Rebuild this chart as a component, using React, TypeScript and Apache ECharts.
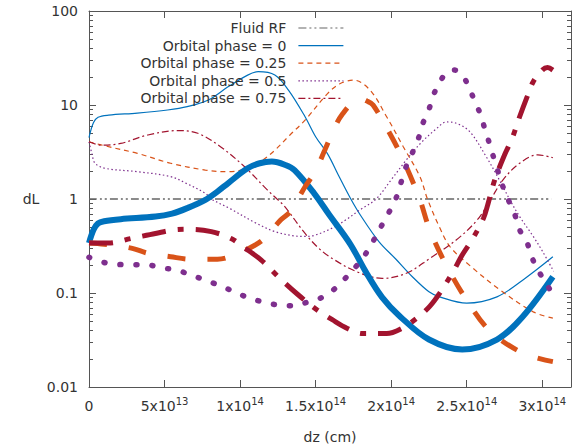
import React, { useEffect, useRef } from 'react';
import * as echarts from 'echarts';

const FONT = 'DejaVu Sans';
const X_UNIT = 1e13;
const X_MAX = 3.19e14;
const AXIS_COLOR = '#555';
const TEXT_COLOR = '#333';

const legendNames = [
  'Fluid RF',
  'Orbital phase = 0',
  'Orbital phase = 0.25',
  'Orbital phase = 0.5',
  'Orbital phase = 0.75',
];

// x in units of 1e13 cm, y = dL
const fluidRF = [[0, 1], [30.6, 1]];

const phase0Thin = [
  [0, 4.5], [0.3, 6.5], [0.6, 7.4], [1.3, 7.8], [3.2, 8.2], [5.2, 8.85], [6.5, 9.6], [7.9, 11.3],
  [9.2, 15.6], [10.5, 20.8], [11.2, 22.6], [12.3, 20.8], [13.2, 14.4], [14.3, 7.5], [15.0, 4.6],
  [15.8, 3.0], [16.5, 1.8], [17.3, 1.02], [18.0, 0.66], [19.2, 0.35], [20.3, 0.23], [21.4, 0.149],
  [22.5, 0.103], [23.2, 0.091], [25.0, 0.078], [27.0, 0.091], [28.7, 0.137], [30.7, 0.243],
];

const phase0Thick = [
  [0, 0.34], [0.3, 0.47], [0.6, 0.55], [1.0, 0.58], [2.1, 0.61], [4.4, 0.65], [5.5, 0.7], [6.5, 0.8],
  [7.7, 0.98], [8.5, 1.2], [9.2, 1.47], [10.5, 2.12], [11.3, 2.4], [12.1, 2.5], [13.0, 2.3],
  [13.6, 2.03], [14.9, 1.15], [15.9, 0.68], [17.3, 0.33], [18.3, 0.17], [19.4, 0.09], [20.6, 0.056],
  [22.5, 0.032], [24.7, 0.025], [27.0, 0.032], [28.7, 0.056], [30.7, 0.149],
];

const phase025Thin = [
  [0, 4.06], [1.3, 3.6], [3.2, 3.06], [5.4, 2.4], [7.7, 2.03], [9.2, 1.95], [10.5, 2.12], [11.5, 2.6],
  [12.3, 3.3], [13.3, 4.8], [14.3, 6.9], [15.8, 13.3], [16.6, 16.8], [17.5, 18.4], [18.6, 14.4],
  [19.7, 7.5], [20.8, 3.6], [21.9, 1.73], [22.4, 1.0], [23.2, 0.5], [23.9, 0.31], [25.3, 0.19],
  [27.2, 0.108], [29.4, 0.063], [30.7, 0.054],
];

const phase025Thick = [
  [0, 0.34], [1.0, 0.33], [2.8, 0.3], [3.9, 0.265], [5.4, 0.243], [6.75, 0.229], [8.5, 0.229],
  [9.65, 0.254], [11.0, 0.324], [11.6, 0.38], [12.7, 0.6], [13.3, 0.73], [14.3, 1.35], [15.0, 2.0],
  [15.6, 3.3], [16.4, 6.4], [16.8, 8.1], [17.4, 10.5], [17.9, 11.7], [18.4, 11.0], [18.8, 10],
  [19.9, 5.0], [20.8, 2.6], [21.9, 0.98], [22.55, 0.47], [23.7, 0.19], [25.0, 0.084], [26.5, 0.04],
  [28.7, 0.023], [30.7, 0.0186],
];

const phase05Thin = [
  [0, 4.06], [0.2, 3.0], [0.4, 2.4], [1.06, 2.12], [3.24, 1.95], [5.4, 1.73], [6.5, 1.45], [7.7, 1.15],
  [8.1, 1.0], [9.4, 0.78], [11.0, 0.56], [12.3, 0.45], [13.6, 0.405], [14.3, 0.4], [14.9, 0.41],
  [16.1, 0.49], [17.0, 0.6], [17.9, 0.76], [19.0, 1.0], [20.0, 1.6], [21.0, 2.6], [22.0, 4.0],
  [23.0, 5.6], [23.65, 6.6], [24.3, 6.4], [25.2, 5.2], [26.3, 2.8], [27.2, 1.55], [27.9, 0.95],
  [28.5, 0.65], [29.4, 0.4], [30.0, 0.28], [30.75, 0.17],
];

const phase05Thick = [
  [0, 0.24], [0.26, 0.23], [1.26, 0.207], [2.6, 0.2], [3.7, 0.2], [4.8, 0.186], [5.9, 0.173],
  [6.75, 0.155], [7.7, 0.137], [8.7, 0.119], [9.5, 0.105], [10.4, 0.091], [11.4, 0.081],
  [12.4, 0.075], [13.3, 0.073], [14.6, 0.081], [15.5, 0.091], [16.3, 0.112], [16.9, 0.14],
  [17.5, 0.178], [18.1, 0.233], [18.6, 0.31], [19.05, 0.42], [19.5, 0.57], [20.0, 0.8], [20.4, 1.1],
  [20.7, 1.59], [21.0, 2.24], [21.4, 3.1], [21.8, 4.4], [22.1, 6.4], [22.5, 9], [22.8, 12.8],
  [23.2, 17.3], [23.7, 22.5], [24.2, 23.5], [24.7, 21], [25.1, 15.9], [25.5, 11.3], [25.9, 8],
  [26.2, 5.55], [26.5, 3.9], [26.8, 2.7], [27.4, 1.35], [27.8, 0.94], [28.2, 0.67], [28.5, 0.47],
  [29.0, 0.34], [29.3, 0.243], [29.7, 0.176], [30.2, 0.132], [30.7, 0.095],
];

const phase075Thin = [
  [0, 4.06], [0.8, 3.75], [2.1, 3.9], [3.9, 4.8], [5.9, 5.35], [7.2, 5.0], [8.7, 3.6], [10.3, 2.2],
  [11.8, 1.25], [12.5, 0.98], [12.96, 0.83], [14.3, 0.43], [15.2, 0.3], [16.1, 0.233], [17.7, 0.169],
  [19.4, 0.143], [21.0, 0.162], [22.55, 0.233], [24.3, 0.366], [25.7, 0.6], [26.6, 1.0], [27.4, 1.6],
  [28.5, 2.4], [29.7, 2.95], [30.7, 2.75],
];

const phase075Thick = [
  [0, 0.34], [1.26, 0.34], [2.8, 0.38], [4.4, 0.43], [5.7, 0.47], [6.75, 0.476], [8.1, 0.45],
  [9.4, 0.38], [10.2, 0.31], [11.4, 0.224], [12.6, 0.145], [13.8, 0.097], [15.1, 0.066], [16.1, 0.052],
  [17.1, 0.042], [18.1, 0.037], [19.7, 0.037], [20.7, 0.042], [21.7, 0.054], [22.55, 0.072],
  [23.2, 0.099], [24.1, 0.169], [24.7, 0.254], [25.4, 0.38], [26.1, 0.62], [26.4, 0.88], [26.85, 1.59],
  [27.5, 2.94], [28.0, 4.4], [28.5, 7.5], [29.0, 12.3], [29.4, 17.7], [30.0, 23.5], [30.35, 25],
  [30.7, 23.5],
];

const minorMultipliers = [2, 3, 4, 5, 6, 7, 8, 9];
const decades = [0.01, 0.1, 1, 10];

const BLUE = '#0072bd';
const ORANGE = '#d95319';
const PURPLE = '#7e2f8e';
const RED = '#a2142f';
const GRAY = '#666666';

function toData(arr: number[][]) {
  return arr.map(([x, y]) => [x * X_UNIT, y]);
}

function xLabel(v: number) {
  if (v === 0) return '{b|0}';
  const e = Math.floor(Math.log10(v) + 1e-9);
  const m = Math.round((v / Math.pow(10, e)) * 100) / 100;
  return `{b|${m}x10}{s|${e}}`;
}

function yLabel(v: number) {
  if (v >= 1) return String(Math.round(v));
  return String(Number(v.toPrecision(1)));
}

function lineSeries(name: string, data: number[][], color: string, width: number, type: any, z: number, cap = 'butt') {
  return {
    name,
    type: 'line',
    data: toData(data),
    symbol: 'none',
    smooth: 0.35,
    clip: true,
    silent: true,
    z,
    itemStyle: { color },
    lineStyle: { color, width, type, cap },
  };
}

export default function App() {
  const ref = useRef<HTMLDivElement>(null);

  useEffect(() => {
    document.body.style.margin = '0';
    const chart = echarts.init(ref.current!, undefined, { renderer: 'svg' });
    const axisCommon = {
      axisLine: { show: true, onZero: false, lineStyle: { color: AXIS_COLOR, width: 1 } },
      axisTick: { show: true, inside: true, length: 7, lineStyle: { color: AXIS_COLOR, width: 1 } },
      splitLine: { show: false },
      minorTick: { show: false },
    };
    const xCommon = { type: 'value', min: 0, max: X_MAX, interval: 5e13 };
    const yCommon = { type: 'log', logBase: 10, min: 0.01, max: 100 };
    chart.setOption({
      animation: false,
      grid: { left: 89, right: 4, top: 11, bottom: 58, containLabel: false },
      xAxis: [
        {
          ...xCommon,
          ...axisCommon,
          position: 'bottom',
          axisLabel: {
            margin: 9,
            formatter: xLabel,
            showMaxLabel: false,
            rich: {
              b: { fontSize: 14, lineHeight: 20, fontFamily: FONT, color: TEXT_COLOR },
              s: { fontSize: 10, lineHeight: 10, verticalAlign: 'top', fontFamily: FONT, color: TEXT_COLOR },
            },
          },
        },
        { ...xCommon, ...axisCommon, position: 'top', axisLabel: { show: false } },
      ],
      yAxis: [
        {
          ...yCommon,
          ...axisCommon,
          position: 'left',
          axisLabel: { margin: 11, fontSize: 14, fontFamily: FONT, color: TEXT_COLOR, formatter: yLabel },
        },
        { ...yCommon, ...axisCommon, position: 'right', axisLabel: { show: false } },
      ],
      legend: {
        data: legendNames,
        orient: 'vertical',
        align: 'right',
        right: 231,
        top: 21,
        itemWidth: 45,
        itemHeight: 14,
        itemGap: 3.6,
        padding: 0,
        selectedMode: false,
        itemStyle: { opacity: 0 },
        lineStyle: { width: 1.2 },
        textStyle: { fontSize: 14, fontFamily: FONT, color: TEXT_COLOR, padding: [0, 7, 0, 0] },
      },
      series: [
        lineSeries(legendNames[0], fluidRF, GRAY, 1.3, [8, 3, 2, 3, 2, 3], 2),
        lineSeries(legendNames[1], phase0Thin, BLUE, 1.2, 'solid', 3),
        lineSeries(legendNames[2], phase025Thin, ORANGE, 1.2, [5, 4], 3),
        lineSeries(legendNames[3], phase05Thin, PURPLE, 1.2, [1.5, 2.5], 3),
        lineSeries(legendNames[4], phase075Thin, RED, 1.2, [7, 3, 2, 3], 3),
        lineSeries('phase 0 (thick)', phase0Thick, BLUE, 6, 'solid', 4),
        lineSeries('phase 0.25 (thick)', phase025Thick, ORANGE, 5, [18, 22], 4),
        lineSeries('phase 0.5 (thick)', phase05Thick, PURPLE, 5.5, [1, 15], 4, 'round'),
        lineSeries('phase 0.75 (thick)', phase075Thick, RED, 5, [24, 12, 6, 12], 4),
      ],
    } as any);

    const xl = chart.convertToPixel({ xAxisIndex: 0 }, 0) as number;
    const xr = chart.convertToPixel({ xAxisIndex: 0 }, X_MAX) as number;
    const elements: any[] = [];
    decades.forEach((d) => {
      minorMultipliers.forEach((m) => {
        const y = chart.convertToPixel({ yAxisIndex: 0 }, d * m) as number;
        const yy = Math.round(y) + 0.5;
        elements.push({ type: 'line', silent: true, shape: { x1: xl, y1: yy, x2: xl + 4, y2: yy }, style: { stroke: AXIS_COLOR, lineWidth: 1 } });
        elements.push({ type: 'line', silent: true, shape: { x1: xr - 4, y1: yy, x2: xr, y2: yy }, style: { stroke: AXIS_COLOR, lineWidth: 1 } });
      });
    });
    const yMid = chart.convertToPixel({ yAxisIndex: 0 }, 1) as number;
    elements.push({
      type: 'text', x: 31, y: yMid, silent: true,
      style: { text: 'dL', fontSize: 14, fontFamily: FONT, fill: TEXT_COLOR, align: 'center', verticalAlign: 'middle' },
    });
    elements.push({
      type: 'text', x: (xl + xr) / 2, y: 437, silent: true,
      style: { text: 'dz (cm)', fontSize: 14, fontFamily: FONT, fill: TEXT_COLOR, align: 'center', verticalAlign: 'middle' },
    });
    chart.setOption({ graphic: { elements } });

    return () => chart.dispose();
  }, []);

  return <div ref={ref} style={{ width: 575, height: 445 }} />;
}
